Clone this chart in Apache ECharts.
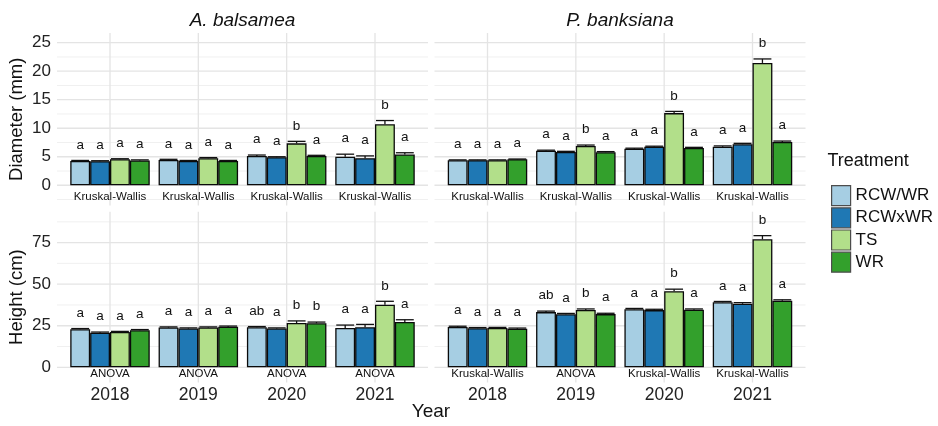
<!DOCTYPE html>
<html>
<head>
<meta charset="utf-8">
<script src="https://cdn.jsdelivr.net/npm/echarts@6/dist/echarts.min.js"></script>
<style>
  html, body { margin: 0; padding: 0; background: #ffffff; }
  #chart { width: 938px; height: 426px; }
</style>
</head>
<body>
<div id="chart"></div>
<script>
// ---- data ----
const years = ['2018', '2019', '2020', '2021'];
const treatments = ['RCW/WR', 'RCWxWR', 'TS', 'WR'];
const species = ['A. balsamea', 'P. banksiana'];
const diameterTicks = [0, 5, 10, 15, 20, 25];
const heightTicks = [0, 25, 50, 75];

// one row per treatment (RCW/WR, RCWxWR, TS, WR), one column per year
const balsameaDiameter = [
  [4.25, 4.45, 5.15, 5.0],
  [4.2, 4.25, 4.9, 4.75],
  [4.55, 4.75, 7.35, 10.7],
  [4.35, 4.25, 5.15, 5.4]
];
const balsameaDiameterSE = [
  [0.1, 0.1, 0.15, 0.45],
  [0.1, 0.1, 0.1, 0.4],
  [0.1, 0.1, 0.35, 0.65],
  [0.1, 0.1, 0.1, 0.3]
];
const balsameaDiameterLetters = [
  ['a', 'a', 'a', 'a'],
  ['a', 'a', 'a', 'a'],
  ['a', 'a', 'b', 'b'],
  ['a', 'a', 'a', 'a']
];
const balsameaDiameterTest = ['Kruskal-Wallis', 'Kruskal-Wallis', 'Kruskal-Wallis', 'Kruskal-Wallis'];

const banksianaDiameter = [
  [4.4, 6.05, 6.4, 6.75],
  [4.4, 5.85, 6.75, 7.2],
  [4.4, 6.9, 12.65, 21.45],
  [4.55, 5.8, 6.55, 7.6]
];
const banksianaDiameterSE = [
  [0.05, 0.1, 0.1, 0.15],
  [0.05, 0.1, 0.1, 0.15],
  [0.05, 0.15, 0.3, 0.7],
  [0.05, 0.1, 0.1, 0.15]
];
const banksianaDiameterLetters = [
  ['a', 'a', 'a', 'a'],
  ['a', 'a', 'a', 'a'],
  ['a', 'b', 'b', 'b'],
  ['a', 'a', 'a', 'a']
];
const banksianaDiameterTest = ['Kruskal-Wallis', 'Kruskal-Wallis', 'Kruskal-Wallis', 'Kruskal-Wallis'];

const balsameaHeight = [
  [22.9, 23.9, 24.1, 23.7],
  [20.8, 23.3, 23.3, 24.1],
  [21.2, 23.9, 26.6, 37.6],
  [22.3, 24.4, 26.5, 27.3]
];
const balsameaHeightSE = [
  [0.4, 0.4, 0.4, 1.7],
  [0.4, 0.4, 0.4, 1.7],
  [0.4, 0.4, 1.3, 2.1],
  [0.4, 0.4, 0.7, 1.3]
];
const balsameaHeightLetters = [
  ['a', 'a', 'ab', 'a'],
  ['a', 'a', 'a', 'a'],
  ['a', 'a', 'b', 'b'],
  ['a', 'a', 'b', 'a']
];
const balsameaHeightTest = ['ANOVA', 'ANOVA', 'ANOVA', 'ANOVA'];

const banksianaHeight = [
  [24.3, 33.2, 34.9, 39.1],
  [23.5, 31.9, 34.4, 38.2],
  [23.6, 34.5, 45.8, 77.0],
  [23.2, 32.0, 34.6, 40.1]
];
const banksianaHeightSE = [
  [0.4, 0.6, 0.5, 0.5],
  [0.4, 0.5, 0.5, 0.7],
  [0.4, 0.6, 1.2, 2.2],
  [0.4, 0.5, 0.5, 0.5]
];
const banksianaHeightLetters = [
  ['a', 'ab', 'a', 'a'],
  ['a', 'a', 'a', 'a'],
  ['a', 'b', 'b', 'b'],
  ['a', 'a', 'a', 'a']
];
const banksianaHeightTest = ['Kruskal-Wallis', 'ANOVA', 'Kruskal-Wallis', 'Kruskal-Wallis'];

// ---- styling / layout ----
const FONT = "'Liberation Sans', Arial, Helvetica, sans-serif";
const fills = ['#A6CEE3', '#1F78B4', '#B2DF8A', '#33A02C'];
const colLeft = [57, 434.5];
const panelWidth = 371;
const rowTop = [33, 211.7];
const rowHeight = [172.5, 170.8];
const rowRange = [[-3.55, 26.7], [-9.15, 93.6]];
const rowTicks = [diameterTicks, heightTicks];
const testLabelY = [-2.05, -4.2];
const BAR_SHARE = 0.9 / 4;

const panels = [
  { row: 0, col: 0, mean: balsameaDiameter, se: balsameaDiameterSE, letters: balsameaDiameterLetters, tests: balsameaDiameterTest },
  { row: 0, col: 1, mean: banksianaDiameter, se: banksianaDiameterSE, letters: banksianaDiameterLetters, tests: banksianaDiameterTest },
  { row: 1, col: 0, mean: balsameaHeight, se: balsameaHeightSE, letters: balsameaHeightLetters, tests: balsameaHeightTest },
  { row: 1, col: 1, mean: banksianaHeight, se: banksianaHeightSE, letters: banksianaHeightLetters, tests: banksianaHeightTest }
];

const grid = [], xAxis = [], yAxis = [], series = [];

panels.forEach((p, i) => {
  const ticks = rowTicks[p.row];
  const [ymin, ymax] = rowRange[p.row];

  grid.push({ left: colLeft[p.col], top: rowTop[p.row], width: panelWidth, height: rowHeight[p.row], containLabel: false });

  xAxis.push({
    type: 'value', gridIndex: i, min: -0.6, max: 3.6,
    axisLine: { show: false }, axisTick: { show: false }, splitLine: { show: false },
    axisLabel: p.row === 1 ? {
      show: true, customValues: [0, 1, 2, 3],
      formatter: v => (Number.isInteger(v) && years[v]) ? years[v] : '',
      fontSize: 17.5, color: '#222222', fontFamily: FONT, margin: 4
    } : { show: false }
  });

  yAxis.push({
    type: 'value', gridIndex: i, min: ymin, max: ymax,
    axisLine: { show: false }, axisTick: { show: false }, splitLine: { show: false },
    axisLabel: p.col === 0 ? {
      show: true, customValues: ticks,
      formatter: v => ticks.indexOf(v) >= 0 ? String(v) : '',
      fontSize: 17, color: '#222222', fontFamily: FONT, margin: 6
    } : { show: false }
  });

  // background grid: major / minor horizontal lines and vertical lines at each year
  const step = ticks[1] - ticks[0];
  const lines = [];
  ticks.forEach(t => lines.push([0, t]));
  for (let m = ticks[0] - step / 2; m < ymax; m += step) {
    if (m > ymin) lines.push([1, m]);
  }
  years.forEach((y, k) => lines.push([2, k]));
  series.push({
    type: 'custom', xAxisIndex: i, yAxisIndex: i, z: 0, silent: true,
    data: lines,
    renderItem: (params, api) => {
      const cs = params.coordSys;
      const kind = api.value(0), v = api.value(1);
      if (kind < 2) {
        const y = api.coord([0, v])[1];
        return { type: 'line', shape: { x1: cs.x, y1: y, x2: cs.x + cs.width, y2: y },
          style: { stroke: kind === 0 ? '#e4e4e4' : '#eeeeee', lineWidth: kind === 0 ? 1.3 : 0.9 } };
      }
      const x = api.coord([v, 0])[0];
      return { type: 'line', shape: { x1: x, y1: cs.y, x2: x, y2: cs.y + cs.height },
        style: { stroke: '#e4e4e4', lineWidth: 1.3 } };
    }
  });

  // bars
  treatments.forEach((name, t) => {
    series.push({
      type: 'bar', name, xAxisIndex: i, yAxisIndex: i, z: 2,
      barWidth: (BAR_SHARE * 100) + '%', barGap: '0%', barCategoryGap: '10%',
      data: years.map((y, k) => [k, p.mean[t][k]]),
      itemStyle: { color: fills[t], borderColor: '#0a0a0a', borderWidth: 1.3 },
      emphasis: { disabled: true }, silent: true
    });
  });

  // error bars (upper half, behind the bars) and group letters
  const ann = [];
  treatments.forEach((name, t) => years.forEach((y, k) => ann.push([k, p.mean[t][k], p.se[t][k], t])));
  series.push({
    type: 'custom', xAxisIndex: i, yAxisIndex: i, z: 1, silent: true,
    data: ann,
    renderItem: (params, api) => {
      const k = api.value(0), m = api.value(1), s = api.value(2), t = api.value(3);
      const barW = api.size([1, 0])[0] * BAR_SHARE;
      const cx = api.coord([k, 0])[0] + (t - 1.5) * barW;
      const yMean = api.coord([k, m])[1];
      const yTop = api.coord([k, m + s])[1];
      const cap = barW * 0.45;
      return {
        type: 'group',
        children: [
          { type: 'line', shape: { x1: cx, y1: yMean, x2: cx, y2: yTop }, style: { stroke: '#111111', lineWidth: 1.3 } },
          { type: 'line', shape: { x1: cx - cap, y1: yTop, x2: cx + cap, y2: yTop }, style: { stroke: '#111111', lineWidth: 1.3 } },
          { type: 'text', x: cx, y: yTop - 15.5,
            style: { text: p.letters[t][k], fontSize: 13.5, fontFamily: FONT, fill: '#111111', align: 'center', verticalAlign: 'middle' } }
        ]
      };
    }
  });

  // statistical test used for each year
  series.push({
    type: 'custom', xAxisIndex: i, yAxisIndex: i, z: 3, silent: true,
    data: years.map((y, k) => [k, testLabelY[p.row]]),
    renderItem: (params, api) => {
      const pt = api.coord([api.value(0), api.value(1)]);
      return { type: 'text', x: pt[0], y: pt[1],
        style: { text: p.tests[params.dataIndex], fontSize: 11.5, fontFamily: FONT, fill: '#111111', align: 'center', verticalAlign: 'middle' } };
    }
  });
});

const textStyleBase = { fontFamily: FONT, fill: '#111111', align: 'center', verticalAlign: 'middle' };

const option = {
  animation: false,
  backgroundColor: '#ffffff',
  grid, xAxis, yAxis, series,
  legend: {
    data: treatments, orient: 'vertical', left: 826, top: 180,
    itemWidth: 19, itemHeight: 20, itemGap: 1, icon: 'rect', selectedMode: false,
    itemStyle: { borderColor: '#4d4d4d', borderWidth: 1.2 },
    textStyle: { fontSize: 17, color: '#111111', fontFamily: FONT }
  },
  graphic: [
    { type: 'text', x: colLeft[0] + panelWidth / 2, y: 21, style: Object.assign({}, textStyleBase, { text: species[0], fontSize: 19, fontStyle: 'italic' }) },
    { type: 'text', x: colLeft[1] + panelWidth / 2, y: 21, style: Object.assign({}, textStyleBase, { text: species[1], fontSize: 19, fontStyle: 'italic' }) },
    { type: 'text', x: 16.5, y: rowTop[0] + rowHeight[0] / 2, rotation: Math.PI / 2, style: Object.assign({}, textStyleBase, { text: 'Diameter (mm)', fontSize: 18.5 }) },
    { type: 'text', x: 16.5, y: rowTop[1] + rowHeight[1] / 2, rotation: Math.PI / 2, style: Object.assign({}, textStyleBase, { text: 'Height (cm)', fontSize: 18.5 }) },
    { type: 'text', x: 431, y: 412, style: Object.assign({}, textStyleBase, { text: 'Year', fontSize: 19 }) },
    { type: 'text', x: 827.5, y: 161.5, style: Object.assign({}, textStyleBase, { text: 'Treatment', fontSize: 18, align: 'left' }) }
  ]
};

const chart = echarts.init(document.getElementById('chart'), null, { renderer: 'canvas' });
chart.setOption(option);
</script>
</body>
</html>
